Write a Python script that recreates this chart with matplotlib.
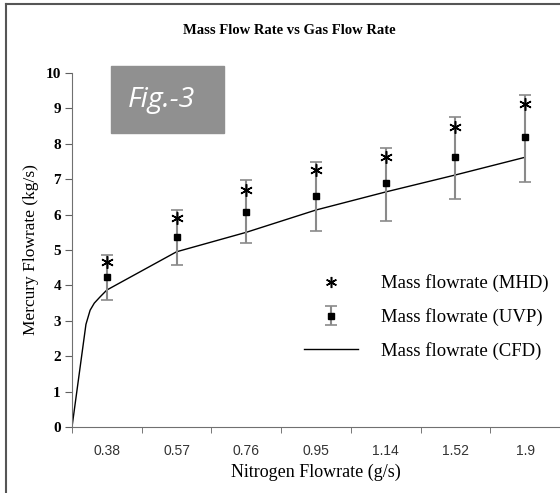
import numpy as np
import matplotlib
matplotlib.use('Agg')
import matplotlib.pyplot as plt
from matplotlib.lines import Line2D

gas_flow = ['0.38', '0.57', '0.76', '0.95', '1.14', '1.52', '1.9']

mhd = [4.66, 5.90, 6.70, 7.26, 7.63, 8.47, 9.12]

uvp = [4.24, 5.37, 6.07, 6.53, 6.89, 7.62, 8.19]
uvp_low = [3.59, 4.58, 5.20, 5.54, 5.82, 6.44, 6.93]
uvp_high = [4.86, 6.13, 6.98, 7.48, 7.88, 8.76, 9.38]

# CFD curve, x given in category positions (starts at the axis origin)
cfd_x = [-0.5, -0.3, -0.24, -0.18, -0.1, 0, 1, 2, 3, 4, 5, 6]
cfd_y = [0.0, 2.9, 3.3, 3.5, 3.67, 3.87, 4.95, 5.5, 6.13, 6.64, 7.12, 7.62]

serif = 'Liberation Serif'
pos = np.arange(len(gas_flow))

fig = plt.figure(figsize=(5.6, 4.93), dpi=100)
ax = fig.add_axes([72 / 560, 66 / 493, 488 / 560, 354 / 493])

ax.plot(cfd_x, cfd_y, color='black', lw=1)
err = [np.array(uvp) - np.array(uvp_low), np.array(uvp_high) - np.array(uvp)]
eb = ax.errorbar(pos, uvp, yerr=err, fmt='s', color='black', ms=5,
                 ecolor='#8a8a8a', elinewidth=1.5, capsize=4, capthick=1.2)
ax.plot(pos, mhd, linestyle='none', marker=(6, 2, 0), ms=9,
        markeredgewidth=1.1, color='black')

ax.set_xlim(-0.5, 6.5)
ax.set_ylim(0, 10)
ax.set_yticks(range(0, 11))
ax.set_yticklabels([str(v) for v in range(0, 11)], fontfamily=serif,
                   fontweight='bold', fontsize=11)
ax.set_xticks(pos)
ax.set_xticklabels(gas_flow, fontfamily='Liberation Sans', fontsize=10,
                   color='#333333')
ax.set_xticks(np.arange(-0.5, 7, 1), minor=True)
ax.tick_params(axis='x', which='major', length=0, pad=12)
ax.tick_params(axis='x', which='minor', length=4, color='#606060')
ax.tick_params(axis='y', length=5, color='#606060', pad=3)
for s in ['top', 'right']:
    ax.spines[s].set_visible(False)
for s in ['left', 'bottom']:
    ax.spines[s].set_color('#707070')

ax.set_xlabel('Nitrogen Flowrate (g/s)', fontfamily=serif, fontsize=13,
              labelpad=4)
ax.set_ylabel('Mercury Flowrate (kg/s)', fontfamily=serif, fontsize=12.5,
              labelpad=5)
fig.text(289 / 560, 0.938, 'Mass Flow Rate vs Gas Flow Rate', ha='center',
         va='center', fontfamily=serif, fontweight='bold', fontsize=10.5)

# Fig.-3 label box
fig.patches.append(plt.Rectangle((111 / 560, 1 - 133 / 493), 113 / 560,
                                 67 / 493, transform=fig.transFigure,
                                 color='#909090', zorder=0))
fig.text(128 / 560, 1 - 100 / 493, 'Fig.-3', color='white', fontsize=20.5,
         style='italic', fontfamily='Open Sans', va='center', ha='left')

# outer frame
fig.add_artist(Line2D([6 / 560, 1], [1 - 4 / 493, 1 - 4 / 493],
                      color='#555555', lw=1.5))
fig.add_artist(Line2D([6 / 560, 6 / 560], [0, 1 - 4 / 493],
                      color='#555555', lw=1.5))

h_mhd = Line2D([], [], linestyle='none', marker=(6, 2, 0), ms=8,
               markeredgewidth=1.1, color='black')
h_cfd = Line2D([], [], color='black', lw=1)
leg = ax.legend([h_mhd, eb, h_cfd],
                ['Mass flowrate (MHD)', 'Mass flowrate (UVP)',
                 'Mass flowrate (CFD)'],
                loc='center left', bbox_to_anchor=(0.44, 0.31),
                frameon=False, prop={'family': serif, 'size': 13.5},
                handlelength=2.9, handletextpad=1.25, labelspacing=0.85)

fig.savefig('out.png', dpi=100)
